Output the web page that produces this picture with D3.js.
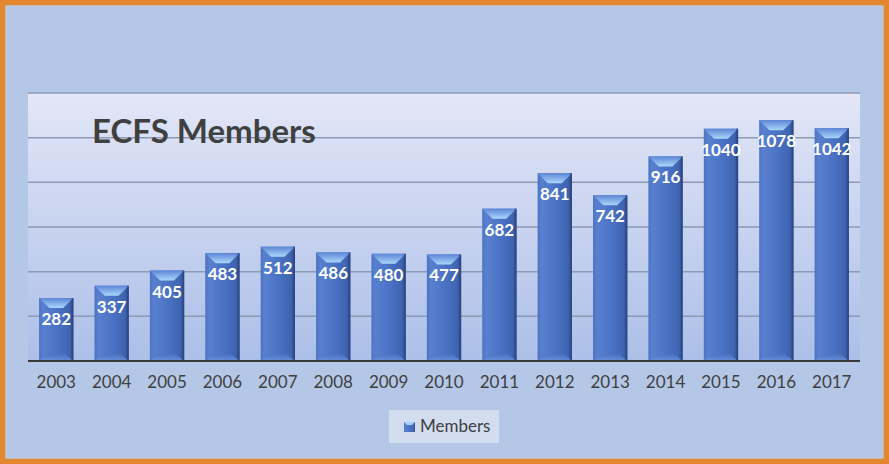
<!DOCTYPE html>
<html><head><meta charset="utf-8">
<script src="https://cdn.jsdelivr.net/npm/d3@7"></script>
<style>html,body{margin:0;padding:0;background:#B4C7E7;}svg{display:block;}</style>
</head><body>
<script>
const years = ["2003","2004","2005","2006","2007","2008","2009","2010","2011","2012","2013","2014","2015","2016","2017"];
const members = [282,337,405,483,512,486,480,477,682,841,742,916,1040,1078,1042];
const yTicks = [0,200,400,600,800,1000,1200];
const seriesName = "Members";
const titleText = "ECFS Members";

const W = 889, H = 464;
const svg = d3.select("body").append("svg").attr("width", W).attr("height", H);
const defs = svg.append("defs");

const plot = {x0: 28, x1: 860, y0: 93, y1: 361};

// gradients
const bg = defs.append("linearGradient").attr("id","plotbg").attr("x1",0).attr("y1",0).attr("x2",0).attr("y2",1);
bg.append("stop").attr("offset","0%").attr("stop-color","#E3E7F7");
bg.append("stop").attr("offset","100%").attr("stop-color","#ACBFE8");

const barG = defs.append("linearGradient").attr("id","barg").attr("x1",0).attr("y1",0).attr("x2",1).attr("y2",0);
barG.append("stop").attr("offset","0%").attr("stop-color","#4D73C2");
barG.append("stop").attr("offset","12%").attr("stop-color","#5980CF");
barG.append("stop").attr("offset","55%").attr("stop-color","#4A72C4");
barG.append("stop").attr("offset","88%").attr("stop-color","#3F64B0");
barG.append("stop").attr("offset","100%").attr("stop-color","#2E4C8C");

const capG = defs.append("linearGradient").attr("id","capg").attr("x1",0).attr("y1",0).attr("x2",0).attr("y2",1);
capG.append("stop").attr("offset","0%").attr("stop-color","#5C86D6");
capG.append("stop").attr("offset","100%").attr("stop-color","#AAD6FB");

const botG = defs.append("linearGradient").attr("id","botg").attr("x1",0).attr("y1",0).attr("x2",0).attr("y2",1);
botG.append("stop").attr("offset","0%").attr("stop-color","#4A72C4");
botG.append("stop").attr("offset","100%").attr("stop-color","#6F95DC");

// outer background
svg.append("rect").attr("x",0).attr("y",0).attr("width",W).attr("height",H).attr("fill","#B4C7E7");

// plot area
svg.append("rect").attr("x",plot.x0).attr("y",plot.y0).attr("width",plot.x1-plot.x0).attr("height",plot.y1-plot.y0).attr("fill","url(#plotbg)");

const x = d3.scaleBand().domain(years).range([plot.x0, plot.x1]).paddingInner(0.38).paddingOuter(0.2);
const y = d3.scaleLinear().domain([0,1200]).range([plot.y1, plot.y0]);

// gridlines
svg.append("g").selectAll("line").data(yTicks.filter(d=>d>0)).join("line")
  .attr("x1",plot.x0).attr("x2",plot.x1)
  .attr("y1",d=>y(d)).attr("y2",d=>y(d))
  .attr("stroke","#8C9AB6").attr("stroke-width",1.5);

// bars
const bw = x.bandwidth();
const bars = svg.append("g").selectAll("g").data(years.map((yr,i)=>({yr, v: members[i]}))).join("g");
bars.append("rect")
  .attr("x",d=>x(d.yr)).attr("y",d=>y(d.v))
  .attr("width",bw).attr("height",d=>y(0)-y(d.v))
  .attr("fill","url(#barg)");
// top bevel cap
bars.append("path").attr("d", d=>{
  const x0 = x(d.yr), x1 = x0+bw, t = y(d.v), dep = 10;
  return `M${x0},${t}L${x1},${t}L${x1-bw*0.3},${t+dep}L${x0+bw*0.3},${t+dep}Z`;
}).attr("fill","url(#capg)");
// bottom bevel
bars.append("path").attr("d", d=>{
  const x0 = x(d.yr), x1 = x0+bw, b = y(0), dep = 7;
  return `M${x0},${b}L${x1},${b}L${x1-bw*0.25},${b-dep}L${x0+bw*0.25},${b-dep}Z`;
}).attr("fill","url(#botg)").attr("opacity",0.8);
// right edge shadow
bars.append("rect")
  .attr("x",d=>x(d.yr)+bw-2).attr("y",d=>y(d.v))
  .attr("width",2).attr("height",d=>y(0)-y(d.v))
  .attr("fill","#2B4680").attr("opacity",0.6);

// value labels
bars.append("text")
  .attr("x",d=>x(d.yr)+bw/2).attr("y",d=>y(d.v)+27)
  .attr("text-anchor","middle")
  .attr("font-family","Lato, 'Open Sans', sans-serif").attr("font-weight","bold")
  .attr("font-size",17).attr("fill","#FFFFFF")
  .text(d=>d.v);

// x axis
const xAxis = d3.axisBottom(x).tickSize(0).tickPadding(15);
const ax = svg.append("g").attr("transform",`translate(0,${plot.y1})`).call(xAxis);
ax.select(".domain").attr("stroke","#3A3A3A").attr("stroke-width",2).attr("d",`M${plot.x0},0H${plot.x1}`);
ax.selectAll("text").attr("font-family","Lato, 'Open Sans', sans-serif").attr("font-size",17).attr("fill","#404040");

// title
svg.append("text").attr("x",92).attr("y",143)
  .attr("font-family","Lato, 'Open Sans', sans-serif").attr("font-weight","bold")
  .attr("font-size",33).attr("fill","#404040").text(titleText);

// legend
const lg = svg.append("g");
lg.append("rect").attr("x",389).attr("y",410).attr("width",110).attr("height",33).attr("fill","#D3DDF0");
lg.append("rect").attr("x",404).attr("y",422).attr("width",11).attr("height",10).attr("fill","url(#barg)");
lg.append("path").attr("d","M404,422L415,422L412,425L407,425Z").attr("fill","#A9D3FA");
lg.append("text").attr("x",420).attr("y",432)
  .attr("font-family","Lato, 'Open Sans', sans-serif")
  .attr("font-size",17).attr("fill","#404040").text(seriesName);

// orange frame
svg.append("rect").attr("x",2.75).attr("y",2.75).attr("width",W-5.5).attr("height",H-5.5)
  .attr("fill","none").attr("stroke","#E2862F").attr("stroke-width",5.5);
svg.append("rect").attr("x",6).attr("y",6).attr("width",W-12).attr("height",H-12)
  .attr("fill","none").attr("stroke","#C9C9C9").attr("stroke-width",1);
</script>
</body></html>
